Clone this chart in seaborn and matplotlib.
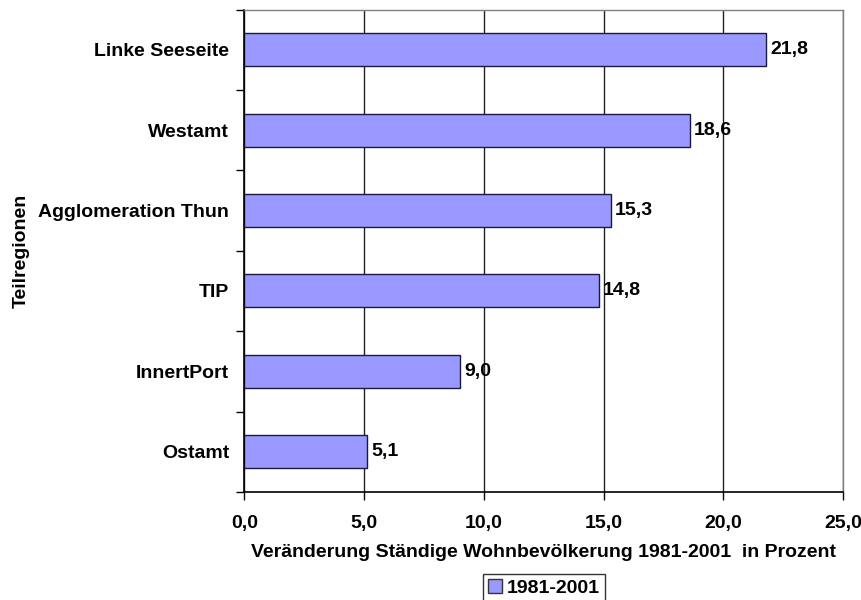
import pandas as pd
import matplotlib.pyplot as plt
import seaborn as sns
from matplotlib.patches import Patch

sns.set_style('white')
plt.rcParams['font.family'] = ['Liberation Sans', 'DejaVu Sans']
plt.rcParams['font.weight'] = 'bold'
plt.rcParams['text.color'] = 'black'
plt.rcParams['axes.labelcolor'] = 'black'
plt.rcParams['xtick.color'] = 'black'
plt.rcParams['ytick.color'] = 'black'

regions = ['Linke Seeseite', 'Westamt', 'Agglomeration Thun', 'TIP', 'InnertPort', 'Ostamt']
values = [21.8, 18.6, 15.3, 14.8, 9.0, 5.1]
series = '1981-2001'

df = pd.DataFrame({'region': regions, 'value': values})
bar_color = '#9999FF'
fs = 14

fig = plt.figure(figsize=(8.62, 6.0), dpi=100)
# plot area: x 244.5..843, y 9.5..492 (pixels)
ax = fig.add_axes([244.5 / 862, 108 / 600, 598.5 / 862, 482.5 / 600])

sns.barplot(data=df, x='value', y='region', orient='h', color=bar_color,
            edgecolor='#1a1a40', linewidth=1.0, width=0.41, saturation=1, ax=ax)

ax.set_xlim(0, 25)
ax.set_ylim(5.5, -0.5)
ax.set_xticks([0, 5, 10, 15, 20, 25])
ax.set_xticklabels(['0,0', '5,0', '10,0', '15,0', '20,0', '25,0'])
ax.xaxis.grid(True, color='#222222', linewidth=1.0)
ax.set_axisbelow(True)

# y ticks at category boundaries, labels at centres
ax.set_yticks([i + 0.5 for i in range(-1, len(regions))], minor=False)
ax.set_yticklabels([])
ax.set_yticks(range(len(regions)), minor=True)
ax.set_yticklabels(regions, minor=True)
ax.tick_params(axis='y', which='major', length=6, width=1, direction='out', left=True)
ax.tick_params(axis='y', which='minor', length=0, pad=11, labelsize=fs)
ax.tick_params(axis='x', length=6, width=1, direction='out', bottom=True, pad=10.5, labelsize=fs)

for s in ['left', 'bottom']:
    ax.spines[s].set_color('black')
    ax.spines[s].set_linewidth(1.2)
for s in ['top', 'right']:
    ax.spines[s].set_color('#808080')
    ax.spines[s].set_linewidth(1.0)

for i, v in enumerate(values):
    ax.text(v + 0.18, i, f'{v:.1f}'.replace('.', ','), va='center', ha='left',
            fontsize=fs, fontweight='bold')

ax.set_xlabel('Veränderung Ständige Wohnbevölkerung 1981-2001  in Prozent',
              fontsize=fs, fontweight='bold', labelpad=8.5)
ax.set_ylabel('Teilregionen', fontsize=fs, fontweight='bold')
ax.yaxis.set_label_coords((30 - 244.5) / 598.5, 0.5)

handles = [Patch(facecolor=bar_color, edgecolor='#333333', label=series)]
leg = fig.legend(handles=handles, loc='upper center', bbox_to_anchor=(544 / 862, 1 - 574 / 600),
                 frameon=True, fancybox=False, edgecolor='black', fontsize=fs,
                 handlelength=0.75, handleheight=0.75, handletextpad=0.25, borderpad=0.25,
                 borderaxespad=0)
leg.get_frame().set_linewidth(1.0)

plt.savefig('out.png', dpi=100)
